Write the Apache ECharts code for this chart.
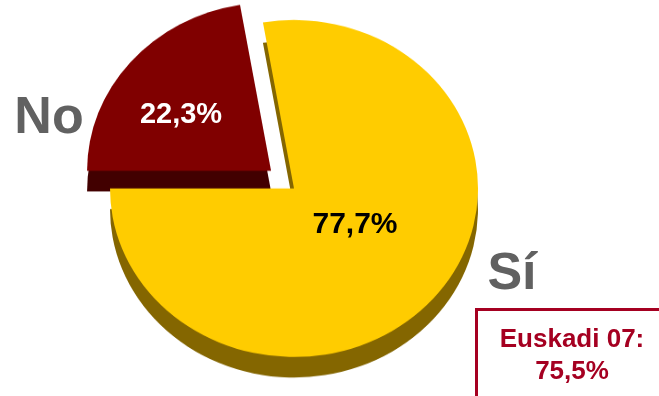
<!DOCTYPE html>
<html>
<head>
<meta charset="utf-8">
<script src="https://cdn.jsdelivr.net/npm/echarts@6/dist/echarts.min.js"></script>
<style>
html,body{margin:0;padding:0;background:#fff;overflow:hidden;}
#wrap{position:relative;width:659px;height:396px;overflow:hidden;}
#pie{position:absolute;left:0;top:0;width:659px;height:433px;transform-origin:0 0;}
#overlay{position:absolute;left:0;top:0;width:659px;height:396px;}
</style>
</head>
<body>
<div id="wrap">
  <div id="pie"></div>
  <div id="overlay"></div>
</div>
<script>
var categories = ['No', 'Sí'];
var values = [22.3, 77.7];
var topColors = ['#800000', '#FFCC00'];
var sideColors = ['#420000', '#846600'];
var noteLines = ['Euskadi 07:', '75,5%'];

var FONT = 'Arial, "Liberation Sans", sans-serif';

// perspective squash of the pie (vertical / horizontal radius)
var squash = 168.5 / 184;
document.getElementById('pie').style.transform = 'scaleY(' + squash + ')';

var pie = echarts.init(document.getElementById('pie'), null, {renderer: 'canvas'});
var overlay = echarts.init(document.getElementById('overlay'), null, {renderer: 'canvas'});

var center = [294, 188.5 / squash];
var radius = 184;
var depth = 20.5 / squash;

function buildData(colors) {
  return categories.map(function (c, i) {
    return {name: c, value: values[i], selected: i === 0, itemStyle: {color: colors[i]}};
  });
}

function pieSeries(c, colors, z) {
  return {
    type: 'pie',
    silent: true,
    center: c,
    radius: radius,
    startAngle: 180,
    clockwise: true,
    selectedMode: 'single',
    selectedOffset: 30,
    label: {show: false},
    labelLine: {show: false},
    emphasis: {disabled: true},
    data: buildData(colors),
    z: z
  };
}

pie.setOption({
  animation: false,
  series: [
    pieSeries([center[0], center[1] + depth], sideColors, 1),
    pieSeries(center, topColors, 2)
  ]
});

function fmt(v) { return String(v).replace('.', ',') + '%'; }

overlay.setOption({
  animation: false,
  graphic: [
    {type: 'text', x: 181, y: 115, z: 10,
     style: {text: fmt(values[0]), font: 'bold 29px ' + FONT, fill: '#ffffff', textAlign: 'center', textVerticalAlign: 'middle'}},
    {type: 'text', x: 355, y: 225, z: 10,
     style: {text: fmt(values[1]), font: 'bold 30px ' + FONT, fill: '#000000', textAlign: 'center', textVerticalAlign: 'middle'}},
    {type: 'text', x: 49, y: 119, z: 10,
     style: {text: categories[0], font: 'bold 52px ' + FONT, fill: '#616161', textAlign: 'center', textVerticalAlign: 'middle'}},
    {type: 'text', x: 512, y: 275, z: 10,
     style: {text: categories[1], font: 'bold 52px ' + FONT, fill: '#616161', textAlign: 'center', textVerticalAlign: 'middle'}},
    {type: 'rect', z: 10,
     shape: {x: 476.5, y: 309.5, width: 200, height: 100},
     style: {fill: '#ffffff', stroke: '#A50021', lineWidth: 3}},
    {type: 'text', z: 11, x: 572, y: 340,
     style: {text: noteLines[0], font: 'bold 26px ' + FONT, fill: '#A50021', textAlign: 'center', textVerticalAlign: 'middle'}},
    {type: 'text', z: 11, x: 572, y: 372,
     style: {text: noteLines[1], font: 'bold 26px ' + FONT, fill: '#A50021', textAlign: 'center', textVerticalAlign: 'middle'}}
  ]
});
</script>
</body>
</html>
